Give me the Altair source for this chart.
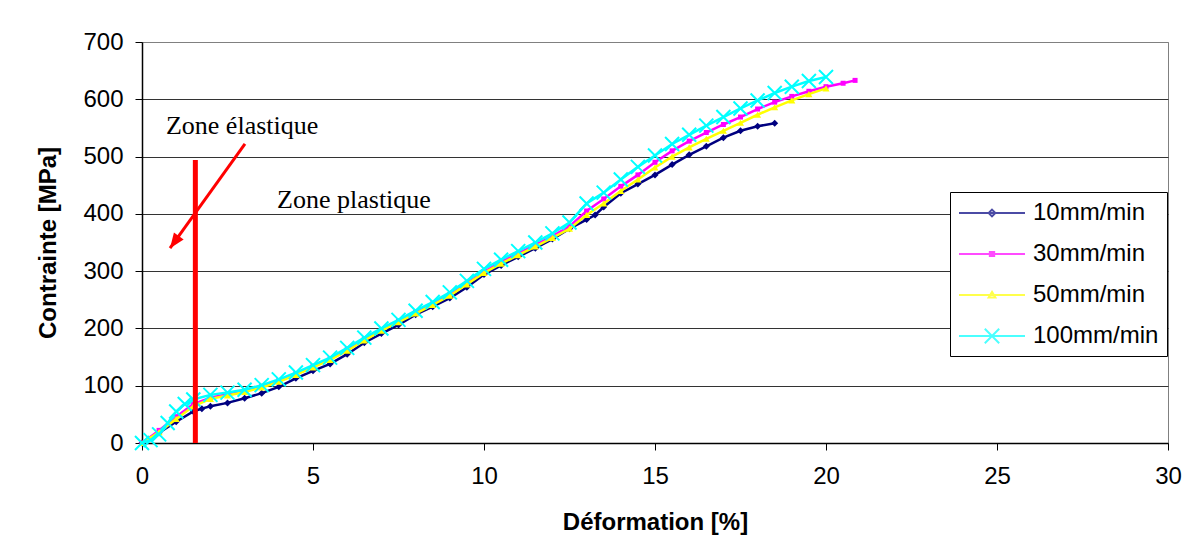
import math
import altair as alt
import pandas as pd

# ---------------- data ----------------
series_names = ["10mm/min", "30mm/min", "50mm/min", "100mm/min"]
series_colors = ["#000080", "#FF00FF", "#FFFF00", "#00FFFF"]

x10 = [0, 0.5, 1.0, 1.5, 1.75, 2.0, 2.5, 3.0, 3.5, 4.0, 4.5, 5.0, 5.5, 6.0, 6.5, 7.0,
       7.5, 8.0, 8.5, 9.0, 9.5, 10.0, 10.5, 11.0, 11.5, 12.0, 12.5, 13.0, 13.25, 13.5,
       14.0, 14.5, 15.0, 15.5, 16.0, 16.5, 17.0, 17.5, 18.0, 18.5]
y10 = [0, 18, 37, 55, 60, 64, 70, 78, 87, 98, 113, 126, 138, 155, 175, 191,
       206, 224, 238, 253, 272, 294, 310, 325, 340, 356, 374, 390, 398, 412,
       436, 452, 468, 486, 503, 518, 533, 545, 553, 558]

x30 = [0, 0.5, 1.0, 1.5, 2.0, 2.5, 3.0, 3.5, 4.0, 4.5, 5.0, 5.5, 6.0, 6.5, 7.0, 7.5,
       8.0, 8.5, 9.0, 9.5, 10.0, 10.5, 11.0, 11.5, 12.0, 12.5, 13.0, 13.5, 14.0, 14.5,
       15.0, 15.5, 16.0, 16.5, 17.0, 17.5, 18.0, 18.5, 19.0, 19.5, 20.0, 20.5, 20.85]
y30 = [0, 22, 46, 68, 79, 85, 91, 99, 109, 121, 134, 147, 163, 181, 198, 213,
       228, 243, 259, 279, 299, 316, 331, 346, 361, 378, 405, 426, 448, 468,
       490, 510, 527, 542, 556, 569, 583, 595, 605, 614, 622, 628, 633]

x50 = [0, 0.5, 1.0, 1.5, 2.0, 2.5, 3.0, 3.5, 4.0, 4.5, 5.0, 5.5, 6.0, 6.5, 7.0, 7.5,
       8.0, 8.5, 9.0, 9.5, 10.0, 10.5, 11.0, 11.5, 12.0, 12.5, 13.0, 13.5, 14.0, 14.5,
       15.0, 15.5, 16.0, 16.5, 17.0, 17.5, 18.0, 18.5, 19.0, 19.5, 20.0]
y50 = [0, 19, 42, 64, 77, 83, 89, 97, 107, 119, 132, 145, 161, 179, 196, 211,
       226, 241, 257, 277, 297, 313, 328, 343, 358, 374, 398, 418, 440, 460,
       481, 500, 516, 531, 545, 559, 573, 586, 598, 609, 619]

x100 = [0, 0.25, 0.5, 0.75, 1.0, 1.25, 1.5, 2.0, 2.5, 3.0, 3.5, 4.0, 4.5, 5.0, 5.5,
        6.0, 6.5, 7.0, 7.5, 8.0, 8.5, 9.0, 9.5, 10.0, 10.5, 11.0, 11.5, 12.0, 12.5,
        13.0, 13.5, 14.0, 14.5, 15.0, 15.5, 16.0, 16.5, 17.0, 17.5, 18.0, 18.5, 19.0,
        19.5, 20.0]
y100 = [0, 5, 15, 35, 55, 68, 76, 84, 88, 93, 101, 111, 123, 136, 149,
        166, 184, 200, 215, 231, 246, 263, 283, 304, 320, 335, 350, 366, 385,
        418, 437, 460, 482, 502, 522, 538, 554, 569, 584, 598, 611, 622,
        632, 639]

x_ticks = [0, 5, 10, 15, 20, 25, 30]
y_ticks = [0, 100, 200, 300, 400, 500, 600, 700]

# annotations (data coordinates)
zone_line_x = [1.56]
zone_line_y = [0, 494]
arrow_from = [3.01, 522]
arrow_to = [0.82, 340]
ann_text = ["Zone élastique", "Zone plastique"]
ann_x = [0.70, 3.95]
ann_y = [539, 410]

# ---------------- layout / style ----------------
W, H = 1026, 401
X_MAX, Y_MAX = 30, 700
FONT = "Liberation Sans"

xs = alt.Scale(domain=[0, X_MAX], nice=False, zero=False)
ys = alt.Scale(domain=[0, Y_MAX], nice=False)
cs = alt.Scale(domain=series_names, range=series_colors)

all_series = [(x10, y10), (x30, y30), (x50, y50), (x100, y100)]
marker_style = [
    dict(shape="diamond", size=49, filled=True),
    dict(shape="square", size=25, filled=True),
    dict(shape="triangle-up", size=50, filled=True),
    dict(shape="M-1,-1L1,1M-1,1L1,-1", size=196, filled=False, strokeWidth=2),
]

x_axis = alt.Axis(values=x_ticks, title="Déformation [%]", grid=False,
                  labelPadding=14, titlePadding=22, labelFlush=False)
y_axis = alt.Axis(values=y_ticks, title="Contrainte [MPa]", grid=True,
                  gridColor=alt.condition("datum.value >= 700", alt.value("#808080"), alt.value("#333333")),
                  labelPadding=12, titlePadding=22, labelFlush=False)

layers = []
for i, (sx, sy) in enumerate(all_series):
    d = pd.DataFrame({"strain": sx, "stress": sy, "series": series_names[i]})
    base = alt.Chart(d).encode(
        x=alt.X("strain:Q", scale=xs, axis=x_axis),
        y=alt.Y("stress:Q", scale=ys, axis=y_axis),
    )
    layers.append(base.mark_line(strokeWidth=2.5, color=series_colors[i]))
    layers.append(base.mark_point(opacity=1, color=series_colors[i], **marker_style[i]))

# legend: line sample with marker in the middle (custom symbol paths)
legend_paths = [
    "M-1,0H4.5M1.75,-0.28L2.03,0L1.75,0.28L1.47,0Z",
    "M-1,0H4.5M1.57,-0.17H1.93V0.17H1.57Z",
    "M-1,0H4.5M1.75,-0.26L2.03,0.2L1.47,0.2Z",
    "M-1,0H4.5M1.15,-0.6L2.35,0.6M1.15,0.6L2.35,-0.6",
]
leg = alt.Legend(title=None, orient="none", legendX=808, legendY=150,
                 fillColor="white", strokeColor="black", padding=8,
                 symbolSize=576, symbolStrokeWidth=2, labelOffset=49,
                 rowPadding=16, labelFont=FONT, labelFontSize=24,
                 labelColor="black", labelLimit=300)
legend_layer = alt.Chart(pd.DataFrame({"series": series_names})).transform_filter(
    "false").mark_point(filled=False, strokeWidth=2).encode(
    color=alt.Color("series:N", scale=cs, legend=leg),
    shape=alt.Shape("series:N", scale=alt.Scale(domain=series_names, range=legend_paths), legend=leg),
)
layers.append(legend_layer)

# red vertical line
vline = alt.Chart(pd.DataFrame({"x": zone_line_x, "y": [zone_line_y[0]], "y2": [zone_line_y[1]]})).mark_rule(
    color="#FF0000", strokeWidth=5).encode(
    x=alt.X("x:Q", scale=xs), y=alt.Y("y:Q", scale=ys), y2="y2:Q")
layers.append(vline)

# red arrow
arrow_df = pd.DataFrame({"x": [arrow_from[0]], "y": [arrow_from[1]],
                         "x2": [arrow_to[0]], "y2": [arrow_to[1]]})
arrow_line = alt.Chart(arrow_df).mark_rule(color="#FF0000", strokeWidth=3).encode(
    x=alt.X("x:Q", scale=xs), y=alt.Y("y:Q", scale=ys), x2="x2:Q", y2="y2:Q")
dxp = (arrow_to[0] - arrow_from[0]) * W / X_MAX
dyp = -(arrow_to[1] - arrow_from[1]) * H / Y_MAX
head_angle = math.degrees(math.atan2(dxp, -dyp)) % 360
arrow_head = alt.Chart(pd.DataFrame({"x": [arrow_to[0]], "y": [arrow_to[1]]})).mark_point(
    shape="M0,0L0.6,1.5L-0.6,1.5Z", size=400, filled=True, color="#FF0000",
    opacity=1, angle=head_angle).encode(
    x=alt.X("x:Q", scale=xs), y=alt.Y("y:Q", scale=ys))
layers.append(arrow_line)
layers.append(arrow_head)

# annotation texts
texts = alt.Chart(pd.DataFrame({"x": ann_x, "y": ann_y, "t": ann_text})).mark_text(
    align="left", baseline="alphabetic", font="Liberation Serif", fontSize=26,
    color="black").encode(
    x=alt.X("x:Q", scale=xs), y=alt.Y("y:Q", scale=ys), text="t:N")
layers.append(texts)

chart = alt.layer(*layers).properties(
    width=W, height=H,
    autosize=alt.AutoSizeParams(type="none"),
    padding={"left": 134, "top": 34, "right": 14, "bottom": 109},
    background="white",
).configure_view(
    stroke="#808080", strokeWidth=1, fill="white"
).configure_axis(
    labelFont=FONT, labelFontSize=24, labelColor="black",
    titleFont=FONT, titleFontSize=24, titleFontWeight="bold", titleColor="black",
    domainColor="black", domainWidth=1.5, tickColor="black", tickSize=7, tickWidth=1,
    gridWidth=1,
)

chart.save("out.html", embed_options={"renderer": "svg", "actions": False})
